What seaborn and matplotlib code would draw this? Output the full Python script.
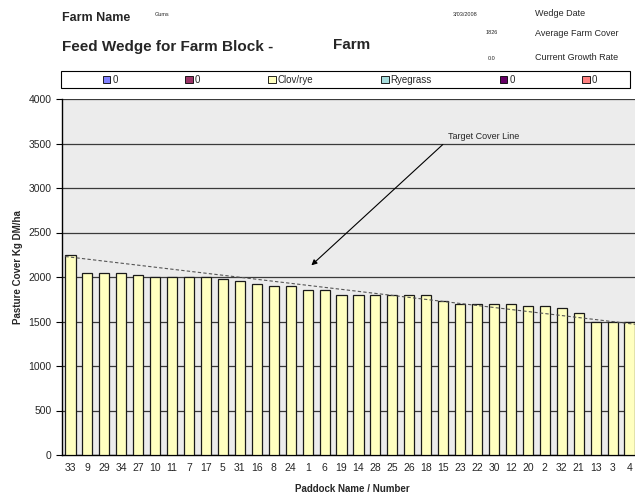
import numpy as np
import pandas as pd
import matplotlib
matplotlib.use('Agg')
import matplotlib.pyplot as plt
from matplotlib.patches import Patch, Rectangle
import seaborn as sns

# paddocks in wedge order and their pasture cover (kg DM/ha)
paddocks = ['33', '9', '29', '34', '27', '10', '11', '7', '17', '5', '31', '16',
            '8', '24', '1', '6', '19', '14', '28', '25', '26', '18', '15', '23',
            '22', '30', '12', '20', '2', '32', '21', '13', '3', '4']
cover = [2250, 2050, 2050, 2050, 2025, 2000, 2000, 2000, 2000, 1975, 1950, 1925,
         1900, 1900, 1850, 1850, 1800, 1800, 1800, 1800, 1800, 1800, 1725, 1700,
         1700, 1700, 1700, 1675, 1675, 1650, 1600, 1500, 1500, 1500]

# target cover line end points
target_start = 2230
target_end = 1465

legend_labels = ['0', '0', 'Clov/rye', 'Ryegrass', '0', '0']
legend_colors = ['#8080FF', '#993366', '#FFFFC0', '#A6DCDC', '#660066', '#FF8080']

sns.set_style('white')
plt.rcParams['font.family'] = ['Liberation Sans', 'DejaVu Sans']

W, H = 635, 493
def px(x, y):
    return x / W, 1 - y / H

fig = plt.figure(figsize=(6.35, 4.93), dpi=100)
ax = fig.add_axes([62 / W, 1 - 455 / H, 576 / W, 356 / H])
ax.set_facecolor('#ececec')

df = pd.DataFrame({'paddock': paddocks, 'cover': cover})
sns.barplot(data=df, x='paddock', y='cover', order=paddocks, color='#FFFFC0',
            saturation=1, edgecolor='#1a1a1a', linewidth=0.9, width=0.6, ax=ax, zorder=3)

ax.set_ylim(0, 4000)
ax.set_xlim(-0.5, len(paddocks) - 0.5)
ax.set_yticks(np.arange(0, 4001, 500))
ax.set_axisbelow(True)
ax.yaxis.grid(True, color='#3a3a3a', lw=0.9)
ax.xaxis.grid(False)

ax.set_xticks(np.arange(-0.5, len(paddocks), 1), minor=True)
ax.tick_params(axis='x', which='major', length=0, labelsize=7.5, pad=6)
ax.tick_params(axis='x', which='minor', length=4, width=0.8, color='black', direction='out')
ax.tick_params(axis='y', which='major', length=4, width=0.8, color='black', labelsize=7.5,
               direction='out', left=True)
for s in ['top', 'right']:
    ax.spines[s].set_visible(False)
for s in ['left', 'bottom']:
    ax.spines[s].set_color('black')
    ax.spines[s].set_linewidth(1.0)
ax.set_xlabel('')
ax.set_ylabel('')

# target cover line
ax.plot([-0.3, len(paddocks) - 0.5], [target_start, target_end], ls=(0, (3, 2)),
        color='#555555', lw=0.8, zorder=4)
ax.annotate('', xy=(14.1, 2110), xytext=(22.1, 3510),
            arrowprops=dict(arrowstyle='-|>', color='black', lw=0.8, mutation_scale=8))
ax.text(22.27, 3576, 'Target Cover Line', fontsize=6.5, ha='left', va='center')

fig.text(*px(18, 267), 'Pasture Cover Kg DM/ha', rotation=90, ha='center', va='center',
         fontsize=7, fontweight='bold')
fig.text(*px(352, 489), 'Paddock Name / Number', ha='center', va='center',
         fontsize=7, fontweight='bold')

# header
fig.text(*px(62, 18), 'Farm Name', fontsize=9, fontweight='bold', va='center')
fig.text(*px(155, 14), 'Gums', fontsize=4, va='center')
fig.text(*px(62, 47), 'Feed Wedge for Farm Block -', fontsize=11, fontweight='bold', va='center')
fig.text(*px(333, 45), 'Farm', fontsize=11, fontweight='bold', va='center')
fig.text(*px(453, 14), '3/03/2008', fontsize=4, va='center')
fig.text(*px(535, 14), 'Wedge Date', fontsize=6.5, va='center')
fig.text(*px(486, 33), '1826', fontsize=4, va='center')
fig.text(*px(535, 33), 'Average Farm Cover', fontsize=6.5, va='center')
fig.text(*px(488, 58), '0.0', fontsize=4, va='center')
fig.text(*px(535, 58), 'Current Growth Rate', fontsize=6.5, va='center')

# legend
handles = [Patch(facecolor=c, edgecolor='black', lw=0.6) for c in legend_colors]
fig.legend(handles, legend_labels, ncol=6, loc='center', bbox_to_anchor=px(350, 80),
           frameon=False, fontsize=7, handlelength=0.8, handleheight=0.8,
           handletextpad=0.2, columnspacing=6.95)
fig.patches.append(Rectangle(px(61, 88), 569 / W, 17 / H, transform=fig.transFigure,
                             fill=False, edgecolor='black', lw=0.8))

fig.savefig('out.png', dpi=100)
